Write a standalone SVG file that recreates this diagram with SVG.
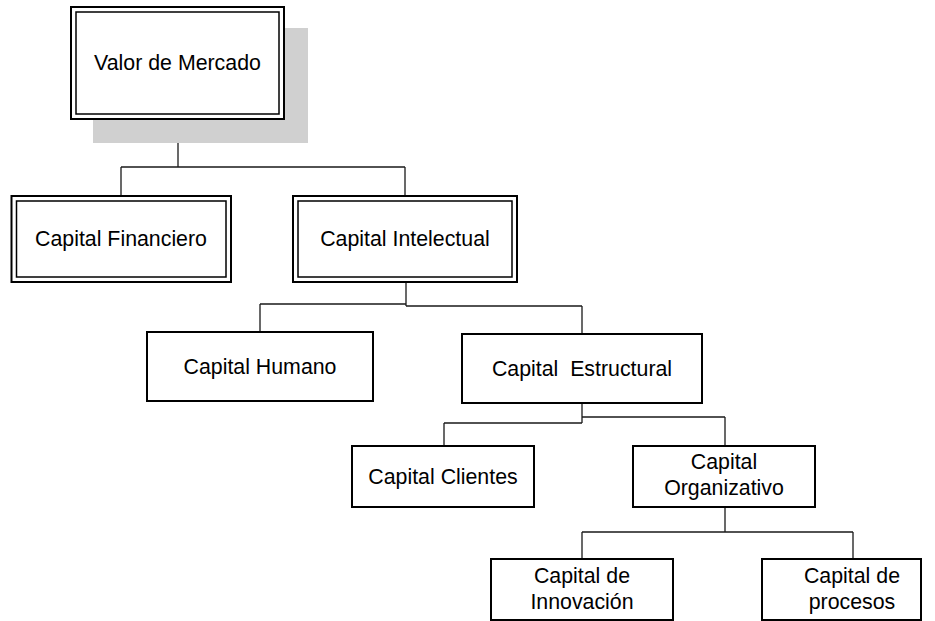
<svg xmlns="http://www.w3.org/2000/svg" width="935" height="621" viewBox="0 0 935 621">
  <style>
    .box { fill: #ffffff; stroke: #000000; stroke-width: 2; }
    .inner { fill: none; stroke: #000000; stroke-width: 1.5; }
    .shadow { fill: #d0d0d0; stroke: none; }
    .lbl { font-family: "Liberation Sans", Arial, sans-serif; font-size: 21.33px; fill: #000000; text-anchor: middle; white-space: pre; }
    .conn { fill: none; stroke: #1a1a1a; stroke-width: 1.3; }
  </style>

  <!-- tree connectors -->
  <g id="connectors">
    <path class="conn" d="M178 119 V167 M121 167 H405 M121 167 V195 M405 167 V195"/>
    <path class="conn" d="M406 282 V306 M260 304 H406 M260 304 V332 M406 306 H582 M582 306 V334"/>
    <path class="conn" d="M582 403 V423 M444 423 H582 M444 423 V446 M582 417 H725 M725 417 V446"/>
    <path class="conn" d="M725 507 V532 M582 532 H853 M582 532 V559 M853 532 V559"/>
  </g>

  <g id="valor-mercado">
    <rect class="shadow" x="93" y="28" width="215" height="115"/>
    <rect class="box" x="71" y="7" width="213" height="112"/>
    <rect class="inner" x="76" y="12" width="203" height="102"/>
    <text class="lbl" x="177.5" y="70">Valor de Mercado</text>
  </g>

  <g id="capital-financiero">
    <rect class="box" x="11.5" y="196" width="219.5" height="86"/>
    <rect class="inner" x="16.5" y="201" width="209.5" height="76"/>
    <text class="lbl" x="121" y="246">Capital Financiero</text>
  </g>

  <g id="capital-intelectual">
    <rect class="box" x="293" y="196" width="224" height="86"/>
    <rect class="inner" x="298" y="201" width="214" height="76"/>
    <text class="lbl" x="405" y="246">Capital Intelectual</text>
  </g>

  <g id="capital-humano">
    <rect class="box" x="147" y="332" width="226" height="69"/>
    <text class="lbl" x="260" y="374">Capital Humano</text>
  </g>

  <g id="capital-estructural">
    <rect class="box" x="462" y="334" width="240" height="69"/>
    <text class="lbl" x="582" y="376">Capital  Estructural</text>
  </g>

  <g id="capital-clientes">
    <rect class="box" x="352" y="446" width="182" height="61"/>
    <text class="lbl" x="443" y="484">Capital Clientes</text>
  </g>

  <g id="capital-organizativo">
    <rect class="box" x="633" y="446" width="182" height="61"/>
    <text class="lbl" x="724" y="469">Capital</text>
    <text class="lbl" x="724" y="495">Organizativo</text>
  </g>

  <g id="capital-innovacion">
    <rect class="box" x="491" y="559" width="182" height="61"/>
    <text class="lbl" x="582" y="583">Capital de</text>
    <text class="lbl" x="582" y="609">Innovación</text>
  </g>

  <g id="capital-procesos">
    <rect class="box" x="762" y="559" width="159" height="61"/>
    <text class="lbl" x="852" y="583">Capital de</text>
    <text class="lbl" x="852" y="609">procesos</text>
  </g>
</svg>
